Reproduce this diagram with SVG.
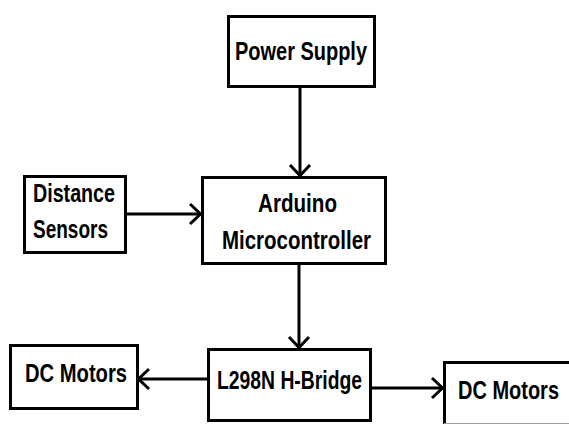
<svg xmlns="http://www.w3.org/2000/svg" width="569" height="424" viewBox="0 0 569 424">
  <style>
    .box { fill: #ffffff; stroke: #000000; stroke-width: 3; }
    .lbl { font-family: "Liberation Sans", Arial, sans-serif; font-weight: bold; font-size: 25px; fill: #000000; }
    .conn { stroke: #000000; stroke-width: 3; fill: none; marker-end: url(#arrow); }
  </style>
  <defs>
    <marker id="arrow" markerUnits="userSpaceOnUse" orient="auto" markerWidth="30" markerHeight="30" viewBox="-15 -15 30 30" refX="0" refY="0" overflow="visible">
      <path d="M-11,-10 L-0.5,0 L-11,10" fill="none" stroke="#000000" stroke-width="3" stroke-linejoin="miter"/>
    </marker>
  </defs>
  <rect width="569" height="424" fill="#ffffff"/>

  <g id="connectors">
    <line class="conn" x1="300" y1="88" x2="300" y2="176"/>
    <line class="conn" x1="127" y1="214" x2="201" y2="214"/>
    <line class="conn" x1="299" y1="265" x2="299" y2="348"/>
    <line class="conn" x1="207" y1="379" x2="138" y2="379"/>
    <line class="conn" x1="372" y1="388" x2="443" y2="388"/>
  </g>

  <g id="power-supply">
    <rect class="box" x="228.5" y="16.5" width="146" height="70"/>
    <text class="lbl" x="235" y="60" textLength="132" lengthAdjust="spacingAndGlyphs">Power Supply</text>
  </g>

  <g id="distance-sensors">
    <rect class="box" x="24.5" y="176.5" width="101" height="76"/>
    <text class="lbl" x="33" y="202" textLength="82" lengthAdjust="spacingAndGlyphs">Distance</text>
    <text class="lbl" x="33" y="238" textLength="75" lengthAdjust="spacingAndGlyphs">Sensors</text>
  </g>

  <g id="arduino">
    <rect class="box" x="202.5" y="177.5" width="183" height="86"/>
    <text class="lbl" x="258" y="212" textLength="79" lengthAdjust="spacingAndGlyphs">Arduino</text>
    <text class="lbl" x="222" y="249" textLength="149" lengthAdjust="spacingAndGlyphs">Microcontroller</text>
  </g>

  <g id="dc-motors-left">
    <rect class="box" x="10.5" y="345.5" width="127" height="63"/>
    <text class="lbl" x="25" y="382" textLength="102" lengthAdjust="spacingAndGlyphs">DC Motors</text>
  </g>

  <g id="l298n">
    <rect class="box" x="208.5" y="349.5" width="162" height="71"/>
    <text class="lbl" x="217" y="389" textLength="145" lengthAdjust="spacingAndGlyphs">L298N H-Bridge</text>
  </g>

  <g id="dc-motors-right">
    <path d="M444.5,430 L444.5,362.5 L575,362.5" fill="none" stroke="#000000" stroke-width="3"/>
    <line x1="444" y1="423.5" x2="569" y2="423.5" stroke="#a0a0a0" stroke-width="1"/>
    <text class="lbl" x="458" y="399" textLength="101" lengthAdjust="spacingAndGlyphs">DC Motors</text>
  </g>
</svg>
